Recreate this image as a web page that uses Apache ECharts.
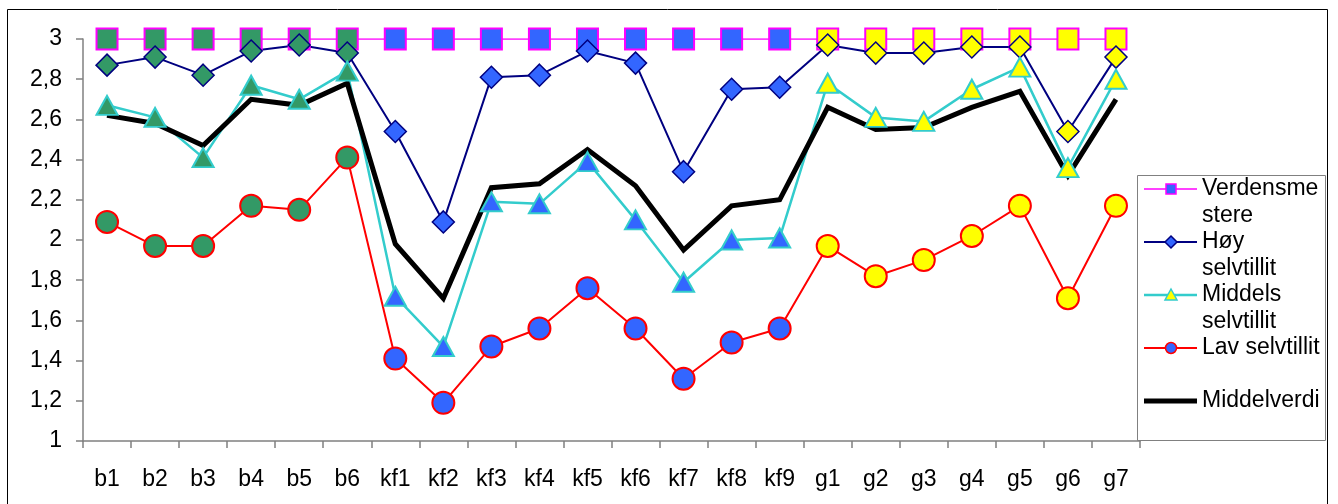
<!DOCTYPE html>
<html>
<head>
<meta charset="utf-8">
<script src="https://cdn.jsdelivr.net/npm/echarts@6/dist/echarts.min.js"></script>
<style>
  html, body { margin: 0; padding: 0; background: #fff; }
  #chart { width: 1338px; height: 504px; }
</style>
</head>
<body>
<div id="chart"></div>
<script>
// Categories: b, kf and g groups
const categories = ['b1','b2','b3','b4','b5','b6','kf1','kf2','kf3','kf4','kf5','kf6','kf7','kf8','kf9','g1','g2','g3','g4','g5','g6','g7'];

const verdensmestere = [3,3,3,3,3,3,3,3,3,3,3,3,3,3,3,3,3,3,3,3,3,3];
const hoySelvtillit = [2.87,2.91,2.82,2.94,2.97,2.93,2.54,2.09,2.81,2.82,2.94,2.88,2.34,2.75,2.76,2.97,2.93,2.93,2.96,2.96,2.54,2.91];
const middelsSelvtillit = [2.67,2.61,2.41,2.77,2.70,2.84,1.72,1.47,2.19,2.18,2.39,2.10,1.79,2.00,2.01,2.78,2.61,2.59,2.75,2.86,2.36,2.80];
const lavSelvtillit = [2.09,1.97,1.97,2.17,2.15,2.41,1.41,1.19,1.47,1.56,1.76,1.56,1.31,1.49,1.56,1.97,1.82,1.90,2.02,2.17,1.71,2.17];
const middelverdi = [2.62,2.58,2.47,2.70,2.67,2.78,1.98,1.71,2.26,2.28,2.45,2.27,1.95,2.17,2.20,2.66,2.55,2.56,2.66,2.74,2.32,2.70];

const yMin = 1, yMax = 3, yStep = 0.2;

const seriesNames = ['Verdensmestere', 'Høy selvtillit', 'Middels selvtillit', 'Lav selvtillit', 'Middelverdi'];
const legendLabels = ['Verdensme\nstere', 'Høy\nselvtillit', 'Middels\nselvtillit', 'Lav selvtillit', 'Middelverdi'];

const FONT = '"Liberation Sans", Arial, sans-serif';
const FS = 23;
const groupFill = { b: '#339966', kf: '#3366FF', g: '#FFFF00' };
const fillFor = cat => groupFill[cat.replace(/\d+$/, '')];

function markerSeries(name, values, symbol, size, lineColor, lineWidth, borderColor, borderWidth) {
  return {
    name, type: 'line',
    data: values.map((v, i) => ({ value: v, itemStyle: { color: fillFor(categories[i]) } })),
    symbol, symbolSize: size, showAllSymbol: true,
    lineStyle: { color: lineColor, width: lineWidth },
    itemStyle: { borderColor, borderWidth },
    emphasis: { disabled: true },
    animation: false
  };
}

const series = [
  markerSeries(seriesNames[0], verdensmestere, 'rect', 21, '#FF00FF', 1.5, '#FF00FF', 2),
  markerSeries(seriesNames[1], hoySelvtillit, 'diamond', 22, '#000080', 2, '#000080', 1.5),
  markerSeries(seriesNames[2], middelsSelvtillit, 'triangle', [21, 19], '#33CCCC', 2.5, '#33CCCC', 2),
  markerSeries(seriesNames[3], lavSelvtillit, 'circle', 22, '#FF0000', 2, '#FF0000', 2),
  {
    name: seriesNames[4], type: 'line', data: middelverdi,
    showSymbol: false, symbol: 'none',
    lineStyle: { color: '#000', width: 5, join: 'miter', cap: 'butt' },
    emphasis: { disabled: true }, animation: false
  }
];

// Boxed key on the right
const legendX = 1137.5, legendTop = 175.5;
const rowYs = [189, 242, 295, 348, 401];
const keyStyle = [
  { line: '#FF00FF', lw: 1.5, sym: 'rect', fill: '#3366FF', stroke: '#FF00FF' },
  { line: '#000080', lw: 2, sym: 'diamond', fill: '#3366FF', stroke: '#000080' },
  { line: '#33CCCC', lw: 2.5, sym: 'triangle', fill: '#FFFF00', stroke: '#33CCCC' },
  { line: '#FF0000', lw: 2, sym: 'circle', fill: '#3366FF', stroke: '#FF0000' },
  { line: '#000000', lw: 5, sym: null }
];

function keyMarker(k, cx, cy) {
  const st = { fill: k.fill, stroke: k.stroke, lineWidth: 1.5 };
  if (k.sym === 'rect') return { type: 'rect', shape: { x: cx - 5, y: cy - 5, width: 10, height: 10 }, style: st };
  if (k.sym === 'diamond') return { type: 'polygon', shape: { points: [[cx, cy - 6], [cx + 6, cy], [cx, cy + 6], [cx - 6, cy]] }, style: st };
  if (k.sym === 'triangle') return { type: 'polygon', shape: { points: [[cx, cy - 6], [cx + 6, cy + 5], [cx - 6, cy + 5]] }, style: st };
  if (k.sym === 'circle') return { type: 'circle', shape: { cx, cy, r: 5.5 }, style: st };
  return null;
}

const legendChildren = [
  { type: 'rect', shape: { x: legendX, y: legendTop, width: 188, height: 265 }, style: { fill: '#fff', stroke: '#808080', lineWidth: 1 } }
];
seriesNames.forEach((n, i) => {
  const k = keyStyle[i], y = rowYs[i];
  legendChildren.push({ type: 'line', shape: { x1: 1144, y1: y, x2: 1197, y2: y }, style: { stroke: k.line, lineWidth: k.lw } });
  const m = keyMarker(k, 1171, y);
  if (m) legendChildren.push(m);
  legendChildren.push({
    type: 'text',
    style: { text: legendLabels[i], x: 1202, y: y - 13.25, font: FS + 'px ' + FONT, lineHeight: 26.5, fill: '#000', verticalAlign: 'top', align: 'left' }
  });
});

const chart = echarts.init(document.getElementById('chart'), null, { renderer: 'canvas' });
chart.setOption({
  animation: false,
  backgroundColor: '#fff',
  grid: { left: 83, right: 198, top: 39, bottom: 63, containLabel: false },
  xAxis: {
    type: 'category', data: categories, boundaryGap: true,
    axisLine: { lineStyle: { color: '#808080', width: 1.5 } },
    axisTick: { show: true, length: 7, lineStyle: { color: '#808080', width: 1.5 } },
    axisLabel: { color: '#000', fontSize: FS, fontFamily: FONT, margin: 27, interval: 0 },
    splitLine: { show: false }
  },
  yAxis: {
    type: 'value', min: yMin, max: yMax, interval: yStep,
    axisLine: { show: true, lineStyle: { color: '#808080', width: 1.5 } },
    axisTick: { show: true, length: 7, lineStyle: { color: '#808080', width: 1.5 } },
    axisLabel: {
      color: '#000', fontSize: FS, fontFamily: FONT, margin: 21,
      formatter: v => String(+v.toFixed(1)).replace('.', ',')
    },
    splitLine: { show: false }
  },
  legend: { show: false },
  tooltip: { show: false },
  series,
  graphic: [
    { type: 'rect', z: -10, silent: true, shape: { x: 7.5, y: 9.5, width: 1320, height: 520 }, style: { fill: 'none', stroke: '#000', lineWidth: 1 } },
    { type: 'group', z: 100, silent: true, children: legendChildren }
  ]
});
</script>
</body>
</html>
